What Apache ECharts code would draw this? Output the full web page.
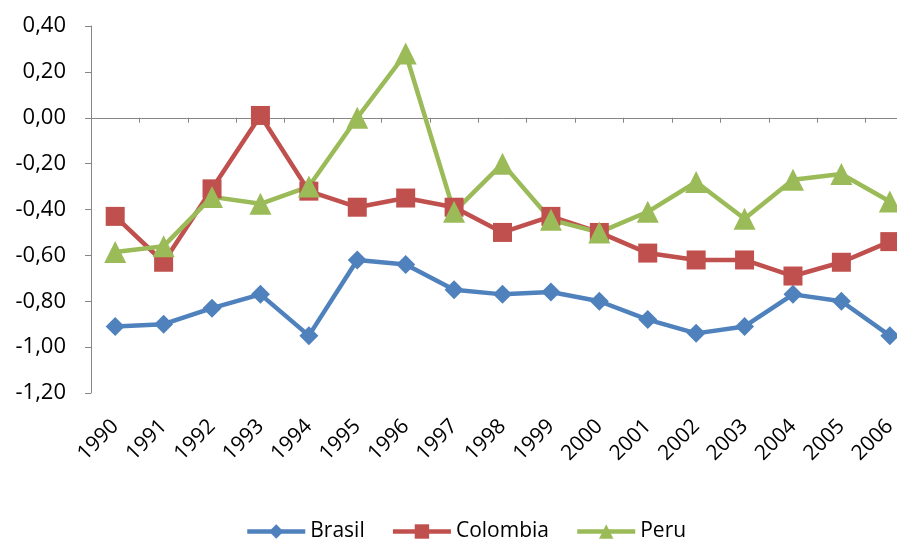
<!DOCTYPE html>
<html><head><meta charset="utf-8">
<script src="https://cdn.jsdelivr.net/npm/echarts@6/dist/echarts.min.js"></script>
<style>html,body{margin:0;padding:0;background:#fff;overflow:hidden}#c{width:914px;height:544px}</style>
</head><body><div id="c"></div>
<script>
const years = ['1990','1991','1992','1993','1994','1995','1996','1997','1998','1999','2000','2001','2002','2003','2004','2005','2006'];
const brasil = [-0.91,-0.90,-0.83,-0.77,-0.95,-0.62,-0.64,-0.75,-0.77,-0.76,-0.80,-0.88,-0.94,-0.91,-0.77,-0.80,-0.95];
const colombia = [-0.43,-0.63,-0.31,0.01,-0.32,-0.39,-0.35,-0.39,-0.50,-0.43,-0.50,-0.59,-0.62,-0.62,-0.69,-0.63,-0.54];
const peru = [-0.585,-0.56,-0.345,-0.375,-0.30,0.00,0.28,-0.41,-0.20,-0.445,-0.50,-0.41,-0.28,-0.44,-0.27,-0.245,-0.365];
const FONT = 'Open Sans';
const chart = echarts.init(document.getElementById('c'));
const mk = (name, data, color, symbol, size) => ({
  name, type: 'line', data, xAxisIndex: 0, symbol, symbolSize: size,
  lineStyle: {width: 4.5, color}, itemStyle: {color}, color, animation: false
});
chart.setOption({
  animation: false,
  textStyle: {fontFamily: FONT},
  grid: {left: 91, right: 0, top: 26, bottom: 151, containLabel: false},
  legend: {
    bottom: -3, left: 240, itemWidth: 58, itemHeight: 18, itemGap: 26,
    lineStyle: {width: 4.5},
    textStyle: {fontFamily: FONT, fontSize: 21, color: '#000'},
    data: ['Brasil','Colombia','Peru']
  },
  xAxis: [
    {type: 'category', data: years, boundaryGap: true,
     axisLine: {onZero: true, lineStyle: {color: '#868686', width: 1}},
     axisTick: {show: true, length: 5, inside: false, lineStyle: {color: '#868686'}},
     axisLabel: {show: false}},
    {type: 'category', data: years, boundaryGap: true, position: 'bottom',
     axisLine: {show: false, onZero: false}, axisTick: {show: false},
     axisLabel: {rotate: 45, margin: 30, fontSize: 21, color: '#000', fontFamily: FONT, interval: 0}}
  ],
  yAxis: {
    type: 'value', min: -1.2, max: 0.4, interval: 0.2,
    splitLine: {show: false},
    axisLine: {show: true, lineStyle: {color: '#868686'}},
    axisTick: {show: true, length: 6, lineStyle: {color: '#868686'}},
    axisLabel: {fontSize: 22, color: '#000', margin: 25, fontFamily: FONT,
      formatter: v => v.toFixed(2).replace('.', ',')}
  },
  series: [
    mk('Brasil', brasil, '#4F81BD', 'diamond', 19),
    mk('Colombia', colombia, '#C0504D', 'rect', 19),
    mk('Peru', peru, '#9BBB59', 'triangle', 22)
  ]
});
</script></body></html>
